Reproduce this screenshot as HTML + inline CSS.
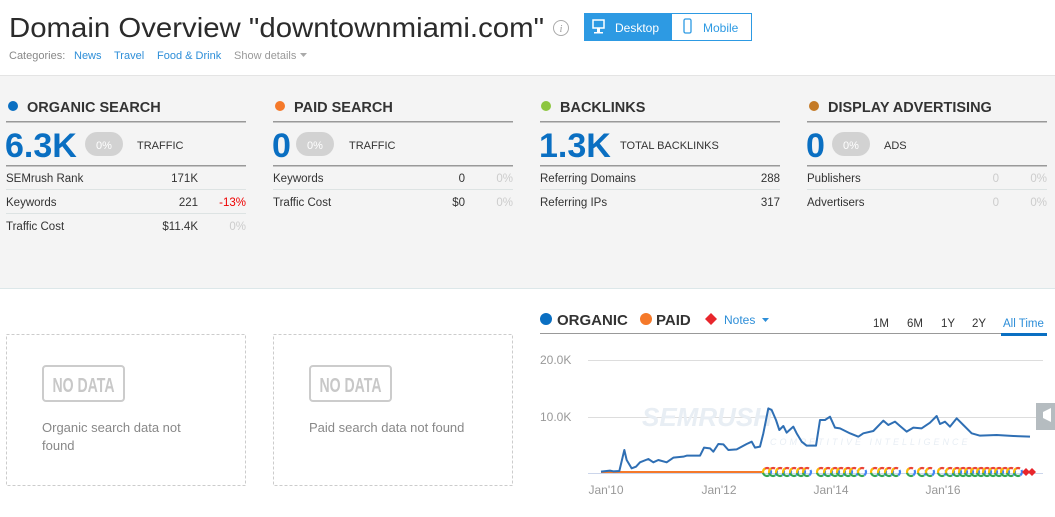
<!DOCTYPE html>
<html><head><meta charset="utf-8"><style>
body{margin:0;width:1055px;height:517px;overflow:hidden;background:#fff;font-family:"Liberation Sans",sans-serif}
svg{display:block}
</style></head><body>
<svg width="1055" height="517" viewBox="0 0 1055 517" font-family="Liberation Sans, sans-serif">
<defs>
<symbol id="g" viewBox="-6 -6 12 12" overflow="visible">
<circle r="4" fill="none" stroke="#ea4335" stroke-width="2.2" stroke-dasharray="6.3 25.2" transform="rotate(-150)"/>
<circle r="4" fill="none" stroke="#fbbc05" stroke-width="2.2" stroke-dasharray="6.3 25.2" transform="rotate(150)"/>
<circle r="4" fill="none" stroke="#34a853" stroke-width="2.2" stroke-dasharray="7.5 25.2" transform="rotate(60)"/>
<circle r="4" fill="none" stroke="#4285f4" stroke-width="2.2" stroke-dasharray="6 25.2" transform="rotate(-30)"/>
</symbol>
</defs>
<text x="9" y="37" font-size="28" fill="#2b2b2b" textLength="535" lengthAdjust="spacingAndGlyphs">Domain Overview "downtownmiami.com"</text>
<circle cx="561" cy="28" r="7.5" fill="none" stroke="#aaa"/>
<text x="561" y="32" font-size="10" fill="#999" text-anchor="middle" font-style="italic" font-family="Liberation Serif, serif">i</text>
<rect x="584.5" y="13.5" width="167" height="27" fill="#fff" stroke="#2d9ae3"/>
<rect x="584" y="13" width="88" height="28" fill="#2d9ae3"/>
<rect x="593" y="20" width="11" height="8" fill="none" stroke="#fff" stroke-width="1.5"/>
<rect x="597" y="28" width="3" height="4" fill="#fff"/><rect x="594" y="32" width="9" height="1.5" fill="#fff"/>
<text x="615" y="32" font-size="12" fill="#fff">Desktop</text>
<rect x="684" y="19" width="7" height="14" rx="1.5" fill="none" stroke="#2d9ae3" stroke-width="1.3"/>
<text x="703" y="32" font-size="12" fill="#2d9ae3">Mobile</text>
<text x="9" y="59" font-size="11" fill="#888">Categories:</text>
<text x="74" y="59" font-size="11" fill="#2d8ed8">News</text>
<text x="114" y="59" font-size="11" fill="#2d8ed8">Travel</text>
<text x="157" y="59" font-size="11" fill="#2d8ed8">Food &amp; Drink</text>
<text x="234" y="59" font-size="11" fill="#999">Show details</text>
<path d="M300 53h7l-3.5 4z" fill="#aaa"/>
<rect x="0" y="75" width="1055" height="213" fill="#f4f4f4"/>
<rect x="0" y="75" width="1055" height="1" fill="#e4e4e4"/>
<rect x="0" y="288" width="1055" height="1" fill="#dce7e9"/>
<g font-size="12" fill="#333">
<circle cx="13" cy="106" r="5" fill="#0a6fc2"/>
<text x="27" y="112" font-size="14.5" font-weight="bold" fill="#333">ORGANIC SEARCH</text>
<rect x="6" y="121" width="240" height="1.5" fill="#999"/>
<text x="5" y="157" font-size="34" font-weight="bold" fill="#0a6fc2">6.3K</text>
<rect x="85" y="132" width="38" height="24" rx="12" fill="#d2d2d2"/>
<text x="104" y="149" font-size="11" fill="#fff" text-anchor="middle">0%</text>
<text x="137" y="149" font-size="11">TRAFFIC</text>
<rect x="6" y="165" width="240" height="1.5" fill="#999"/>
<text x="6" y="182" font-size="11.5">SEMrush Rank</text><text x="198" y="182" text-anchor="end" font-size="11.5">171K</text>
<rect x="6" y="189" width="240" height="1" fill="#dde3e3"/>
<text x="6" y="206" font-size="11.5">Keywords</text><text x="198" y="206" text-anchor="end" font-size="11.5">221</text><text x="246" y="206" text-anchor="end" font-size="11.5" fill="#e00">-13%</text>
<rect x="6" y="213" width="240" height="1" fill="#dde3e3"/>
<text x="6" y="230" font-size="11.5">Traffic Cost</text><text x="198" y="230" text-anchor="end" font-size="11.5">$11.4K</text><text x="246" y="230" text-anchor="end" font-size="11.5" fill="#ccc">0%</text>
<circle cx="280" cy="106" r="5" fill="#f5792a"/>
<text x="294" y="112" font-size="14.5" font-weight="bold" fill="#333">PAID SEARCH</text>
<rect x="273" y="121" width="240" height="1.5" fill="#999"/>
<text x="272" y="157" font-size="34" font-weight="bold" fill="#0a6fc2">0</text>
<rect x="296" y="132" width="38" height="24" rx="12" fill="#d2d2d2"/>
<text x="315" y="149" font-size="11" fill="#fff" text-anchor="middle">0%</text>
<text x="349" y="149" font-size="11">TRAFFIC</text>
<rect x="273" y="165" width="240" height="1.5" fill="#999"/>
<text x="273" y="182" font-size="11.5">Keywords</text><text x="465" y="182" text-anchor="end" font-size="11.5">0</text><text x="513" y="182" text-anchor="end" font-size="11.5" fill="#ccc">0%</text>
<rect x="273" y="189" width="240" height="1" fill="#dde3e3"/>
<text x="273" y="206" font-size="11.5">Traffic Cost</text><text x="465" y="206" text-anchor="end" font-size="11.5">$0</text><text x="513" y="206" text-anchor="end" font-size="11.5" fill="#ccc">0%</text>
<circle cx="546" cy="106" r="5" fill="#8dc63f"/>
<text x="560" y="112" font-size="14.5" font-weight="bold" fill="#333">BACKLINKS</text>
<rect x="540" y="121" width="240" height="1.5" fill="#999"/>
<text x="539" y="157" font-size="34" font-weight="bold" fill="#0a6fc2">1.3K</text>
<text x="620" y="149" font-size="11">TOTAL BACKLINKS</text>
<rect x="540" y="165" width="240" height="1.5" fill="#999"/>
<text x="540" y="182" font-size="11.5">Referring Domains</text><text x="780" y="182" text-anchor="end" font-size="11.5">288</text>
<rect x="540" y="189" width="240" height="1" fill="#dde3e3"/>
<text x="540" y="206" font-size="11.5">Referring IPs</text><text x="780" y="206" text-anchor="end" font-size="11.5">317</text>
<circle cx="814" cy="106" r="5" fill="#c47a26"/>
<text x="828" y="112" font-size="14.5" font-weight="bold" fill="#333">DISPLAY ADVERTISING</text>
<rect x="807" y="121" width="240" height="1.5" fill="#999"/>
<text x="806" y="157" font-size="34" font-weight="bold" fill="#0a6fc2">0</text>
<rect x="832" y="132" width="38" height="24" rx="12" fill="#d2d2d2"/>
<text x="851" y="149" font-size="11" fill="#fff" text-anchor="middle">0%</text>
<text x="884" y="149" font-size="11">ADS</text>
<rect x="807" y="165" width="240" height="1.5" fill="#999"/>
<text x="807" y="182" font-size="11.5">Publishers</text><text x="999" y="182" text-anchor="end" font-size="11.5" fill="#ccc">0</text><text x="1047" y="182" text-anchor="end" font-size="11.5" fill="#ccc">0%</text>
<rect x="807" y="189" width="240" height="1" fill="#dde3e3"/>
<text x="807" y="206" font-size="11.5">Advertisers</text><text x="999" y="206" text-anchor="end" font-size="11.5" fill="#ccc">0</text><text x="1047" y="206" text-anchor="end" font-size="11.5" fill="#ccc">0%</text>
</g>
<rect x="6.5" y="334.5" width="239" height="151" fill="none" stroke="#ccc" stroke-dasharray="3 2"/>
<rect x="273.5" y="334.5" width="239" height="151" fill="none" stroke="#ccc" stroke-dasharray="3 2"/>
<rect x="43" y="366" width="81" height="35" rx="3" fill="none" stroke="#ccc" stroke-width="2"/>
<text x="83.5" y="392" font-size="20" font-weight="bold" fill="#c8c8c8" text-anchor="middle" textLength="62" lengthAdjust="spacingAndGlyphs">NO DATA</text>
<rect x="310" y="366" width="81" height="35" rx="3" fill="none" stroke="#ccc" stroke-width="2"/>
<text x="350.5" y="392" font-size="20" font-weight="bold" fill="#c8c8c8" text-anchor="middle" textLength="62" lengthAdjust="spacingAndGlyphs">NO DATA</text>
<text x="42" y="432" font-size="13" fill="#888">Organic search data not</text>
<text x="42" y="450" font-size="13" fill="#888">found</text>
<text x="309" y="432" font-size="13" fill="#888">Paid search data not found</text>
<circle cx="546" cy="319" r="6" fill="#0a6fc2"/>
<text x="557" y="325" font-size="15" font-weight="bold" fill="#333">ORGANIC</text>
<circle cx="646" cy="319" r="6" fill="#f5792a"/>
<text x="656" y="325" font-size="15" font-weight="bold" fill="#333">PAID</text>
<path d="M711 313l6 6-6 6-6-6z" fill="#e8262c"/>
<text x="724" y="324" font-size="12" fill="#2d8ed8">Notes</text>
<path d="M762 318h7l-3.5 4z" fill="#2d8ed8"/>
<g font-size="11.5" fill="#333">
<text x="873" y="327">1M</text><text x="907" y="327">6M</text><text x="941" y="327">1Y</text><text x="972" y="327">2Y</text>
<text x="1003" y="327" fill="#2d8ed8">All Time</text>
</g>
<rect x="540" y="333" width="507" height="1" fill="#999"/>
<rect x="1001" y="333" width="46" height="3" fill="#0a6fc2"/>
<text x="540" y="364" font-size="12" fill="#999">20.0K</text>
<text x="540" y="421" font-size="12" fill="#999">10.0K</text>
<rect x="588" y="360" width="455" height="1" fill="#ddd"/>
<rect x="588" y="417" width="455" height="1" fill="#ddd"/>
<rect x="588" y="473" width="455" height="1" fill="#ccd6eb"/>
<text x="642" y="426" font-size="26" font-weight="bold" fill="#e8eef4" font-style="italic">SEMRUSH</text>
<text x="770" y="445" font-size="9" fill="#e8eef4" font-style="italic" letter-spacing="3">COMPETITIVE INTELLIGENCE</text>
<g font-size="12" fill="#999" text-anchor="middle">
<text x="606" y="494">Jan'10</text><text x="719" y="494">Jan'12</text><text x="831" y="494">Jan'14</text><text x="943" y="494">Jan'16</text>
</g>
<rect x="601" y="471" width="163" height="2" fill="#f5792a"/>
<g transform="translate(530,300) scale(0.33333)">
<polyline fill="none" stroke="#2f6fb4" stroke-width="6" stroke-linejoin="round" points="213,515 240,512 250,514 268,513 283,450 290,480 305,505 318,500 330,487 355,477 370,487 385,480 410,487 430,473 460,470 470,467 510,467 522,443 540,445 550,455 565,432 580,433 595,450 620,448 650,432 665,425 675,443 690,440 700,400 715,325 725,330 738,360 748,390 760,378 770,398 790,380 800,400 815,425 830,437 858,437 870,360 885,360 900,350 915,383 930,385 960,400 985,410 1000,400 1030,393 1060,362 1075,375 1095,365 1110,378 1130,395 1150,383 1175,385 1200,368 1220,348 1230,372 1245,365 1260,380 1280,355 1300,375 1325,400 1350,407 1400,405 1450,408 1500,410"/>
</g>
<g>
<use href="#g" x="761" y="466" width="12" height="12"/><use href="#g" x="767" y="466" width="12" height="12"/><use href="#g" x="774" y="466" width="12" height="12"/><use href="#g" x="781" y="466" width="12" height="12"/><use href="#g" x="788" y="466" width="12" height="12"/><use href="#g" x="795" y="466" width="12" height="12"/><use href="#g" x="801" y="466" width="12" height="12"/>
<use href="#g" x="815" y="466" width="12" height="12"/><use href="#g" x="822" y="466" width="12" height="12"/><use href="#g" x="829" y="466" width="12" height="12"/><use href="#g" x="835" y="466" width="12" height="12"/><use href="#g" x="842" y="466" width="12" height="12"/><use href="#g" x="848" y="466" width="12" height="12"/><use href="#g" x="856" y="466" width="12" height="12"/>
<use href="#g" x="869" y="466" width="12" height="12"/><use href="#g" x="876" y="466" width="12" height="12"/><use href="#g" x="883" y="466" width="12" height="12"/><use href="#g" x="890" y="466" width="12" height="12"/>
<use href="#g" x="905" y="466" width="12" height="12"/><use href="#g" x="916" y="466" width="12" height="12"/><use href="#g" x="924" y="466" width="12" height="12"/>
<use href="#g" x="936" y="466" width="12" height="12"/><use href="#g" x="944" y="466" width="12" height="12"/><use href="#g" x="951" y="466" width="12" height="12"/><use href="#g" x="957" y="466" width="12" height="12"/><use href="#g" x="963" y="466" width="12" height="12"/><use href="#g" x="969" y="466" width="12" height="12"/><use href="#g" x="975" y="466" width="12" height="12"/><use href="#g" x="981" y="466" width="12" height="12"/><use href="#g" x="987" y="466" width="12" height="12"/><use href="#g" x="993" y="466" width="12" height="12"/><use href="#g" x="999" y="466" width="12" height="12"/><use href="#g" x="1005" y="466" width="12" height="12"/><use href="#g" x="1012" y="466" width="12" height="12"/>
</g>
<path d="M1026 468l4 4-4 4-4-4zM1032 468l4 4-4 4-4-4z" fill="#e8262c"/>
<rect x="1036" y="403" width="19" height="27" fill="#b5bcc0"/>
<path d="M1043 412l8-4v14l-8-4z" fill="#fff"/>
</svg>
</body></html>
